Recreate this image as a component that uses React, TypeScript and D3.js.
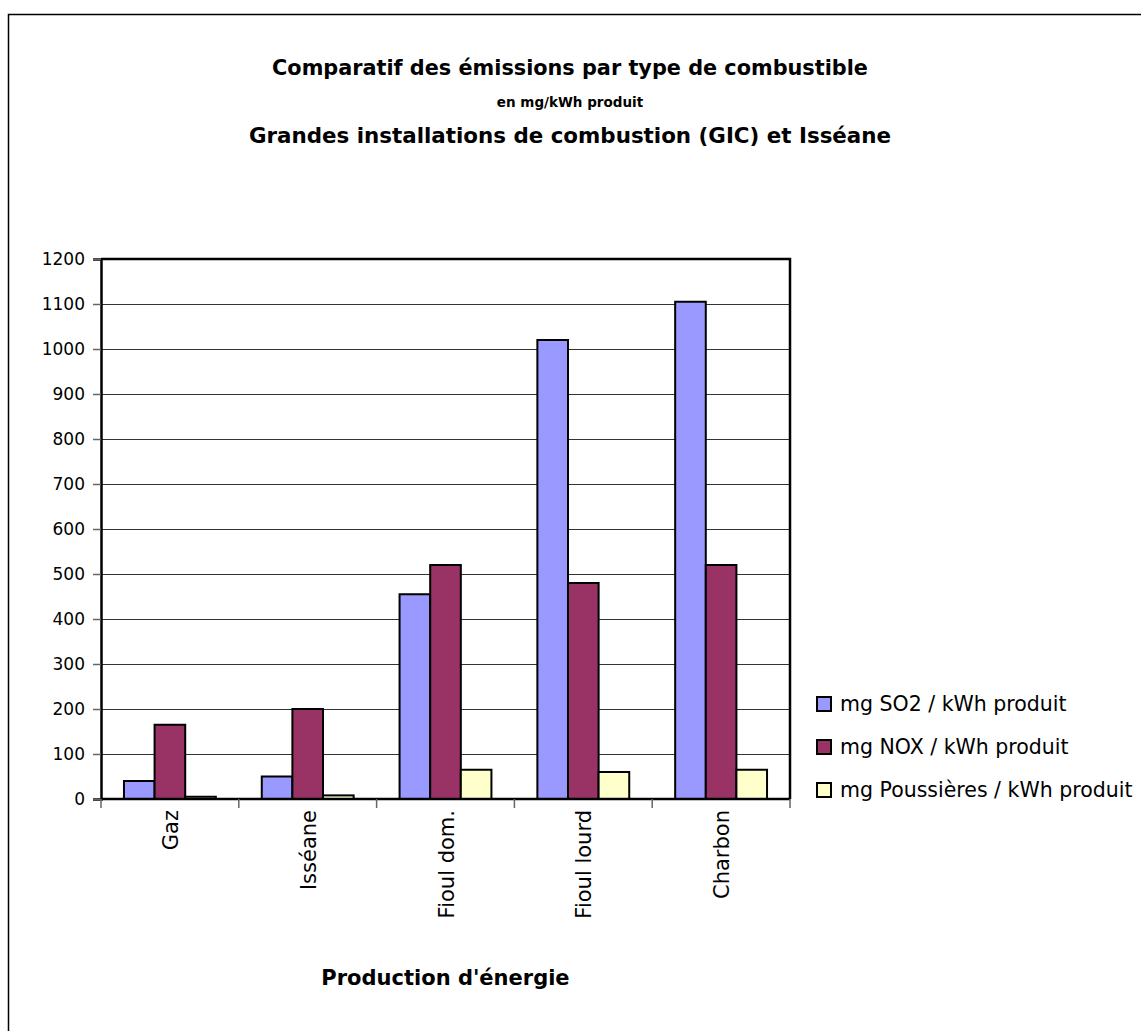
import { useEffect, useRef } from "react";
import * as d3 from "d3";

const categories = ["Gaz", "Isséane", "Fioul dom.", "Fioul lourd", "Charbon"];
const seriesNames = [
  "mg SO2 / kWh produit",
  "mg NOX / kWh produit",
  "mg Poussières / kWh produit",
];
const so2 = [40, 50, 455, 1020, 1105];
const nox = [165, 200, 520, 480, 520];
const dust = [5, 8, 65, 60, 65];
const colors = ["#9999FF", "#993366", "#FFFFCC"];
const yTicks = [0, 100, 200, 300, 400, 500, 600, 700, 800, 900, 1000, 1100, 1200];

const FONT = "'DejaVu Sans', Verdana, sans-serif";

export default function App() {
  const svgRef = useRef<SVGSVGElement>(null);

  useEffect(() => {
    const width = 1141;
    const height = 1031;
    const margin = { top: 259, left: 101, right: 351, bottom: 232 };
    const svg = d3.select(svgRef.current);
    svg.selectAll("*").remove();
    svg.attr("width", width).attr("height", height);

    // outer chart frame
    svg
      .append("rect")
      .attr("x", 8.5)
      .attr("y", 14.5)
      .attr("width", width)
      .attr("height", height)
      .attr("fill", "white")
      .attr("stroke", "black")
      .attr("stroke-width", 1.5);

    const innerW = width - margin.left - margin.right;
    const innerH = height - margin.top - margin.bottom;

    const x = d3.scaleBand().domain(categories).range([0, innerW]);
    const x1 = d3
      .scaleBand()
      .domain(seriesNames)
      .range([0, x.bandwidth()])
      .paddingInner(0)
      .paddingOuter(0.75);
    const y = d3.scaleLinear().domain([0, 1200]).range([innerH, 0]);

    const g = svg
      .append("g")
      .attr("transform", `translate(${margin.left},${margin.top})`);

    // gridlines
    g.selectAll("line.grid")
      .data(yTicks.slice(1))
      .enter()
      .append("line")
      .attr("x1", 0)
      .attr("x2", innerW)
      .attr("y1", (d) => Math.round(y(d)) + 0.5)
      .attr("y2", (d) => Math.round(y(d)) + 0.5)
      .attr("stroke", "#333")
      .attr("stroke-width", 1);

    // bars
    const series = [so2, nox, dust];
    categories.forEach((c, i) => {
      series.forEach((vals, s) => {
        g.append("rect")
          .attr("x", (x(c) || 0) + (x1(seriesNames[s]) || 0))
          .attr("y", y(vals[i]))
          .attr("width", x1.bandwidth())
          .attr("height", innerH - y(vals[i]))
          .attr("fill", colors[s])
          .attr("stroke", "black")
          .attr("stroke-width", 2);
      });
    });

    // plot border top & right
    g.append("path")
      .attr("d", `M0,0H${innerW}V${innerH}`)
      .attr("fill", "none")
      .attr("stroke", "black")
      .attr("stroke-width", 2.5);

    // y axis
    const yAxis = g
      .append("g")
      .call(
        d3
          .axisLeft(y)
          .tickValues(yTicks)
          .tickFormat(d3.format("d"))
          .tickSize(8)
          .tickPadding(8)
      );
    yAxis.select(".domain").attr("stroke", "black").attr("stroke-width", 2.5);
    yAxis.selectAll(".tick line").attr("stroke", "#666").attr("stroke-width", 1.5);
    yAxis
      .selectAll(".tick text")
      .attr("font-family", FONT)
      .attr("font-size", 17)
      .attr("fill", "black");

    // x axis line + boundary ticks
    g.append("line")
      .attr("x1", 0)
      .attr("x2", innerW)
      .attr("y1", innerH)
      .attr("y2", innerH)
      .attr("stroke", "black")
      .attr("stroke-width", 2.5);
    const bounds = categories.map((c) => x(c) || 0).concat([innerW]);
    g.selectAll("line.xt")
      .data(bounds)
      .enter()
      .append("line")
      .attr("x1", (d) => d)
      .attr("x2", (d) => d)
      .attr("y1", innerH)
      .attr("y2", innerH + 9)
      .attr("stroke", "#666")
      .attr("stroke-width", 1.5);

    g.selectAll("text.xl")
      .data(categories)
      .enter()
      .append("text")
      .attr(
        "transform",
        (d) => `translate(${(x(d) || 0) + x.bandwidth() / 2 + 8},${innerH + 11}) rotate(-90)`
      )
      .attr("text-anchor", "end")
      .attr("font-family", FONT)
      .attr("font-size", 21)
      .text((d) => d);

    // axis title
    svg
      .append("text")
      .attr("x", margin.left + innerW / 2)
      .attr("y", 985)
      .attr("text-anchor", "middle")
      .attr("font-family", FONT)
      .attr("font-weight", "bold")
      .attr("font-size", 21)
      .text("Production d'énergie");

    // titles
    const titles = [
      { t: "Comparatif des émissions par type de combustible", y: 75, s: 20.8 },
      { t: "en mg/kWh produit", y: 107, s: 13.5 },
      { t: "Grandes installations de combustion (GIC) et Isséane", y: 143, s: 21.4 },
    ];
    svg
      .selectAll("text.title")
      .data(titles)
      .enter()
      .append("text")
      .attr("x", 570)
      .attr("y", (d) => d.y)
      .attr("text-anchor", "middle")
      .attr("font-family", FONT)
      .attr("font-weight", "bold")
      .attr("font-size", (d) => d.s)
      .text((d) => d.t);

    // legend
    const legend = svg
      .selectAll("g.leg")
      .data(seriesNames)
      .enter()
      .append("g")
      .attr("transform", (_, i) => `translate(817,${697 + i * 43})`);
    legend
      .append("rect")
      .attr("width", 14)
      .attr("height", 14)
      .attr("fill", (_, i) => colors[i])
      .attr("stroke", "black")
      .attr("stroke-width", 2);
    legend
      .append("text")
      .attr("x", 23)
      .attr("y", 14)
      .attr("font-family", FONT)
      .attr("font-size", 20.5)
      .text((d) => d);
  }, []);

  return (
    <svg
      ref={svgRef}
      style={{ position: "absolute", left: 0, top: 0, display: "block" }}
    />
  );
}
